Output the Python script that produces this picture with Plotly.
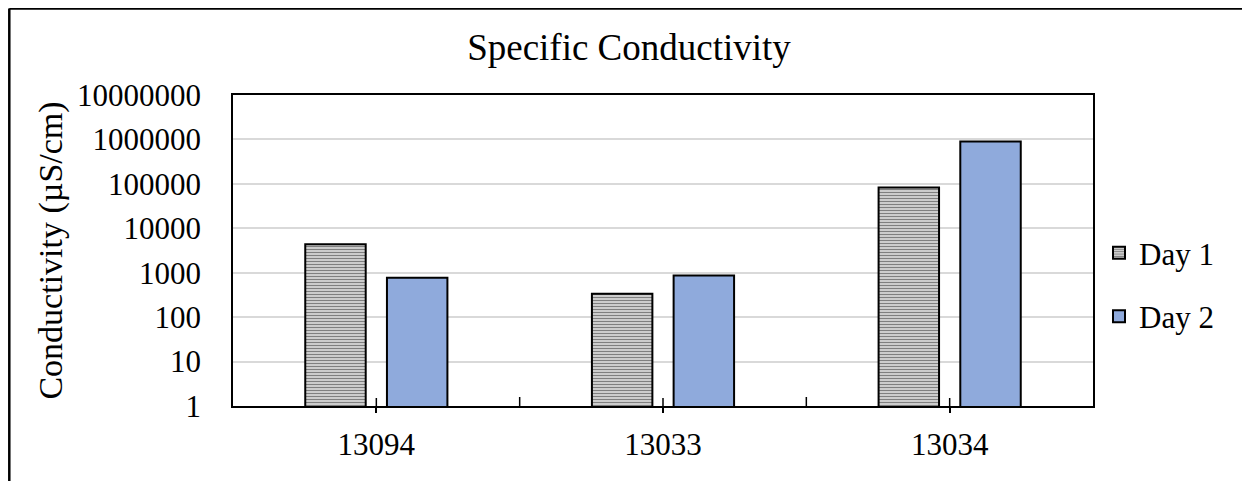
import plotly.graph_objects as go

categories = ["13094", "13033", "13034"]
day1 = [4400, 336, 83000]
day2 = [770, 870, 900000]
tick_vals = [1, 10, 100, 1000, 10000, 100000, 1000000, 10000000]
tick_text = ["1", "10", "100", "1000", "10000", "100000", "1000000", "10000000"]

FONT = "Liberation Serif, Times New Roman, serif"

fig = go.Figure()
fig.add_trace(go.Bar(
    x=categories, y=day1, name="Day 1", legendgroup="a",
    marker=dict(color="white", line=dict(color="black", width=2),
                pattern=dict(shape="-", fgcolor="black", bgcolor="white", size=3, solidity=0.6)),
))
fig.add_trace(go.Bar(
    x=categories, y=day2, name="Day 2", legendgroup="b",
    marker=dict(color="#8FAADC", line=dict(color="black", width=2)),
))

OFF = 8  # page body offset
W, H = 1250, 481
L, T = 233 - OFF, 95 - OFF
pw, ph = 860, 311
R = W - L - pw
B = H - T - ph

shapes = []
# category-boundary inner ticks and inner half of crossing ticks
for xb in [0.5, 1.5]:
    shapes.append(dict(type="line", xref="x", yref="y domain", x0=xb, x1=xb, y0=0, y1=9 / ph,
                       line=dict(color="black", width=1.5)))
for xc in [0, 1, 2]:
    shapes.append(dict(type="line", xref="x", yref="y domain", x0=xc, x1=xc, y0=0, y1=8 / ph,
                       line=dict(color="black", width=1.5)))
# outer figure border (left + top)
xl = (1.3 - L) / pw
yt = 1 + (T - 0.5) / ph
shapes.append(dict(type="line", xref="paper", yref="paper", x0=xl, x1=xl, y0=-1, y1=yt,
                   line=dict(color="black", width=2.5)))
shapes.append(dict(type="line", xref="paper", yref="paper", x0=xl, x1=2, y0=yt, y1=yt,
                   line=dict(color="black", width=2.5)))

fig.update_layout(
    width=W, height=H,
    margin=dict(l=L, r=R, t=T, b=B),
    paper_bgcolor="white", plot_bgcolor="white",
    font=dict(family=FONT, size=31, color="black"),
    title=dict(text="Specific Conductivity", x=(629 - OFF - L) / pw, xref="paper", xanchor="center",
               y=1 - (47 - OFF) / H, yanchor="middle", font=dict(size=37)),
    barmode="group", bargap=0.43, bargroupgap=0.26,
    showlegend=True,
    legend=dict(x=1.007, xanchor="left", y=0.39, yanchor="middle", tracegroupgap=20,
                font=dict(size=31), bgcolor="rgba(0,0,0,0)"),
    shapes=shapes,
)
fig.update_xaxes(
    showline=True, linecolor="black", linewidth=1.5, mirror=True,
    ticks="outside", ticklen=5, tickcolor="black", tickwidth=1.5,
    showgrid=False, ticklabelstandoff=5,
)
fig.update_yaxes(
    type="log", range=[0, 7], tickvals=tick_vals, ticktext=tick_text,
    showline=True, linecolor="black", linewidth=1.5, mirror=True,
    showgrid=True, gridcolor="#D9D9D9", gridwidth=1.5,
    ticks="", ticklabelstandoff=24,
    title=dict(text="Conductivity (µS/cm)", standoff=4, font=dict(size=34)),
)

fig.write_html("out.html")
